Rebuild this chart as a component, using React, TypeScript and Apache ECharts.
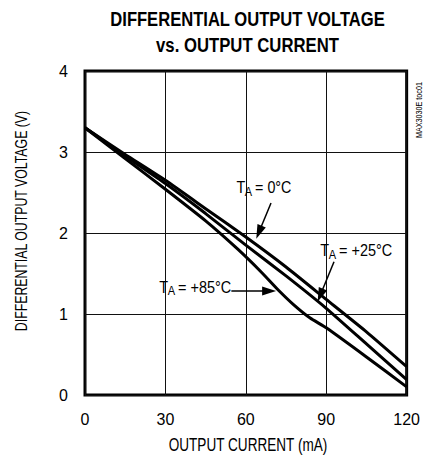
import React, { useEffect, useRef } from "react";
import * as echarts from "echarts";

const FONT = "'Liberation Sans', Arial, sans-serif";

const xTicks = [0, 30, 60, 90, 120];
const yTicks = [0, 1, 2, 3, 4];

const current0C = [0, 15, 30, 45, 60, 75, 90, 105, 120];
const voltage0C = [3.3, 2.97, 2.65, 2.3, 1.95, 1.58, 1.18, 0.78, 0.35];
const current25C = [0, 15, 30, 45, 60, 75, 90, 105, 120];
const voltage25C = [3.3, 2.95, 2.61, 2.24, 1.85, 1.47, 1.07, 0.63, 0.19];
const current85C = [0, 15, 30, 45, 57, 66, 72, 78, 84, 90, 105, 120];
const voltage85C = [3.3, 2.92, 2.54, 2.15, 1.8, 1.51, 1.3, 1.11, 0.95, 0.83, 0.47, 0.1];

const titleLines = ["DIFFERENTIAL OUTPUT VOLTAGE", "vs. OUTPUT CURRENT"];
const xAxisTitle = "OUTPUT CURRENT (mA)";
const yAxisTitle = "DIFFERENTIAL OUTPUT VOLTAGE (V)";

const labelTexts = ["= 0°C", "= +25°C", "= +85°C"];
const labelAnchors = [
  [56.5, 2.67],
  [87.8, 1.89],
  [27.7, 1.44],
];
const arrowStarts = [
  [69.4, 2.37],
  [92.9, 1.646],
  [54.6, 1.284],
];
const arrowTips = [
  [63.9, 1.93],
  [86.8, 1.152],
  [71.3, 1.284],
];

function pairs(xs: number[], ys: number[]) {
  return xs.map((x, i) => [x, ys[i]]);
}

function measure(text: string, size: number, weight = "normal") {
  const c = document.createElement("canvas").getContext("2d")!;
  c.font = `${weight} ${size}px ${FONT}`;
  return c.measureText(text).width;
}

export default function App() {
  const ref = useRef<HTMLDivElement>(null);
  useEffect(() => {
    document.body.style.margin = "0";
    const chart = echarts.init(ref.current!, null, { renderer: "svg" });
    const seriesBase = {
      type: "line",
      showSymbol: false,
      symbol: "none",
      smooth: 0.15,
      lineStyle: { color: "#000", width: 3 },
      itemStyle: { color: "#000" },
    };
    chart.setOption({
      animation: false,
      backgroundColor: "#fff",
      grid: {
        left: 85,
        top: 71,
        right: 13,
        bottom: 60,
        show: true,
        borderColor: "#000",
        borderWidth: 3,
        backgroundColor: "transparent",
      },
      xAxis: {
        type: "value",
        min: xTicks[0],
        max: xTicks[xTicks.length - 1],
        interval: 30,
        axisLine: { show: false },
        axisTick: { show: false },
        axisLabel: { fontFamily: FONT, fontSize: 16, color: "#000", margin: 16 },
        splitLine: { show: true, lineStyle: { color: "#111", width: 1 } },
      },
      yAxis: {
        type: "value",
        min: yTicks[0],
        max: yTicks[yTicks.length - 1],
        interval: 1,
        axisLine: { show: false },
        axisTick: { show: false },
        axisLabel: { fontFamily: FONT, fontSize: 16, color: "#000", margin: 17 },
        splitLine: { show: true, lineStyle: { color: "#111", width: 1 } },
      },
      series: [
        { ...seriesBase, name: "0°C", data: pairs(current0C, voltage0C) },
        { ...seriesBase, name: "+25°C", data: pairs(current25C, voltage25C) },
        { ...seriesBase, name: "+85°C", data: pairs(current85C, voltage85C) },
      ],
    });

    const px = (p: number[]) => chart.convertToPixel({ gridIndex: 0 }, p) as number[];
    const graphics: any[] = [];
    const st = { fontFamily: FONT, fill: "#000" };

    const titleWidths = [275, 183];
    const titleTops = [8, 34];
    titleLines.forEach((t, i) => {
      const w = measure(t, 21, "bold");
      graphics.push({
        type: "text",
        x: 247.5,
        y: titleTops[i],
        scaleX: titleWidths[i] / w,
        style: { ...st, text: t, fontSize: 21, fontWeight: "bold", align: "center", verticalAlign: "top" },
      });
    });

    const xw = measure(xAxisTitle, 18);
    graphics.push({
      type: "text",
      x: 248,
      y: 436,
      scaleX: 159 / xw,
      style: { ...st, text: xAxisTitle, fontSize: 18, align: "center", verticalAlign: "top" },
    });
    const yw = measure(yAxisTitle, 16.5);
    graphics.push({
      type: "text",
      x: 21.5,
      y: 221,
      rotation: Math.PI / 2,
      scaleX: 221 / yw,
      style: { ...st, text: yAxisTitle, fontSize: 16.5, align: "center", verticalAlign: "middle" },
    });

    const labelWidths = [55, 72, 72];
    const wT = measure("T", 17);
    const wA = measure("A", 13);
    labelTexts.forEach((t, i) => {
      const [x, y] = px(labelAnchors[i]);
      const wRest = measure(t, 17);
      const natural = wT + wA + 3 + wRest;
      graphics.push({
        type: "group",
        x,
        y,
        scaleX: labelWidths[i] / natural,
        children: [
          { type: "text", x: 0, y: 0, style: { ...st, text: "T", fontSize: 17, verticalAlign: "top" } },
          { type: "text", x: wT - 0.5, y: 6, style: { ...st, text: "A", fontSize: 13, verticalAlign: "top" } },
          { type: "text", x: wT + wA + 3, y: 0, style: { ...st, text: t, fontSize: 17, verticalAlign: "top" } },
        ],
      });
      const s = px(arrowStarts[i]);
      const e = px(arrowTips[i]);
      const dx = e[0] - s[0];
      const dy = e[1] - s[1];
      const len = Math.hypot(dx, dy);
      const ux = dx / len;
      const uy = dy / len;
      const hl = 14;
      const hw = 4.5;
      const bx = e[0] - ux * hl;
      const by = e[1] - uy * hl;
      graphics.push({
        type: "line",
        shape: { x1: s[0], y1: s[1], x2: bx + ux * 2, y2: by + uy * 2 },
        style: { stroke: "#000", lineWidth: 1.5 },
      });
      graphics.push({
        type: "polygon",
        shape: {
          points: [
            [e[0], e[1]],
            [bx - uy * hw, by + ux * hw],
            [bx + uy * hw, by - ux * hw],
          ],
        },
        style: { fill: "#000" },
      });
    });
    graphics.push({
      type: "text",
      x: 419,
      y: 110,
      rotation: Math.PI / 2,
      scaleX: 0.8,
      style: {
        text: "MAX3030E toc01",
        fontFamily: FONT,
        fontSize: 9,
        fill: "#000",
        align: "center",
        verticalAlign: "middle",
      },
    });
    chart.setOption({ graphic: graphics });
    return () => chart.dispose();
  }, []);
  return <div ref={ref} style={{ width: 423, height: 455 }} />;
}
